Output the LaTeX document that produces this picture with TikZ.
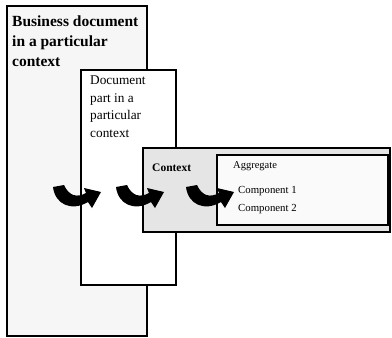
\documentclass[tikz,border=0pt]{standalone}
\usepackage{fontspec}
\setmainfont{Liberation Serif}
\begin{document}
\begin{tikzpicture}[x=1pt,y=-1pt,
  boxstyle/.style={draw=black,line width=1.5pt,inner sep=0pt,outer sep=0pt,anchor=north west},
  txt/.style={inner sep=0pt,anchor=north west,align=left},
  swoosh/.pic={
    \fill[black] (-2,-3) .. controls (0,14) and (16,22) .. (33,12)
      -- (37,18) -- (46,2) -- (29,-2) -- (31,3)
      .. controls (22,8) and (14,6) .. (9,-5) -- cycle;
  }]
\useasboundingbox (0,0) rectangle (392,338);
% boxes
\node[boxstyle,fill=gray!7,minimum width=140pt,minimum height=330pt] (bus) at (7,6) {};
\node[boxstyle,fill=white,minimum width=95pt,minimum height=215pt] (part) at (81,70) {};
\node[boxstyle,fill=gray!20,minimum width=247pt,minimum height=84pt] (ctx) at (143,148) {};
\node[boxstyle,fill=gray!4,line width=1.8pt,minimum width=171pt,minimum height=70pt] (agg) at (217,155) {};
% texts
\node[txt,font=\fontsize{15.5}{20}\selectfont\bfseries] (bustxt) at (12,16) {Business document\\in a particular\\context};
\node[txt,font=\fontsize{13.3}{17.5}\selectfont] (parttxt) at (90,76) {Document\\part in a\\particular\\context};
\node[txt,font=\fontsize{11.5}{14}\selectfont\bfseries] (ctxtxt) at (152,164) {Context};
\node[txt,font=\fontsize{10.5}{13}\selectfont] (aggtxt) at (233,161) {Aggregate};
\node[txt,font=\fontsize{10.8}{18}\selectfont] (comptxt) at (238,186) {Component 1\\Component 2};
% arrows
\pic at (55,190) {swoosh};
\pic at (118,190) {swoosh};
\pic at (188,190) {swoosh};
\end{tikzpicture}
\end{document}
